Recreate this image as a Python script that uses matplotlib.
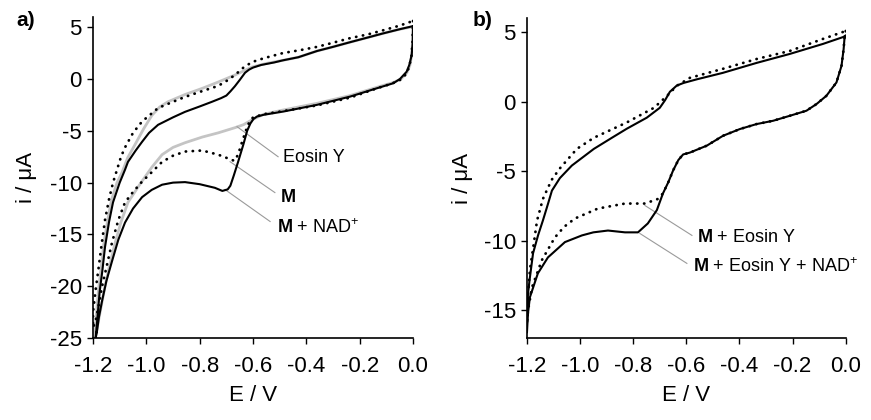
import numpy as np
import matplotlib
matplotlib.use("Agg")
import matplotlib.pyplot as plt

plt.rcParams['font.family'] = ['Liberation Sans', 'DejaVu Sans']
plt.rcParams['axes.unicode_minus'] = False
plt.rcParams['mathtext.fontset'] = 'custom'
plt.rcParams['mathtext.rm'] = 'Liberation Sans'
plt.rcParams['mathtext.bf'] = 'Liberation Sans:bold'

# ---- panel a) : potential (V) / current (uA), lower branch then upper branch
eosin_E = [0.0, -0.002, -0.005, -0.012, -0.023, -0.045, -0.075, -0.135, -0.236, -0.36, -0.488, -0.56,
           -0.604, -0.635, -0.668, -0.731, -0.79, -0.855, -0.9, -0.941, -0.979, -1.02, -1.069, -1.095,
           -1.117, -1.14, -1.155, -1.172, -1.185, -1.192,
           -1.19, -1.18, -1.17, -1.16, -1.145, -1.13, -1.11, -1.091, -1.07, -1.043, -1.01, -0.979,
           -0.95, -0.919, -0.855, -0.79, -0.731, -0.668, -0.604, -0.55, -0.488, -0.43, -0.36, -0.3,
           -0.236, -0.17, -0.112, -0.05, 0.0]
eosin_i = [5.0, 3.5, 2.3, 1.3, 0.6, 0.0, -0.35, -0.8, -1.6, -2.35, -3.0, -3.4,
           -3.94, -4.4, -4.7, -5.2, -5.6, -6.15, -6.6, -7.3, -8.5, -10.0, -11.9, -13.8,
           -15.8, -18.2, -20.0, -22.3, -24.1, -25.0,
           -23.5, -20.5, -18.3, -16.0, -13.6, -11.6, -10.0, -9.0, -7.6, -6.35, -4.8, -3.5,
           -2.7, -2.2, -1.5, -0.9, -0.3, 0.38, 1.15, 1.5, 1.8, 2.1, 2.7, 3.1,
           3.55, 4.0, 4.4, 4.8, 5.05]

m_E = [0.0, -0.002, -0.006, -0.014, -0.025, -0.045, -0.08, -0.135, -0.236, -0.36, -0.488, -0.56,
       -0.6, -0.619, -0.641, -0.656, -0.67, -0.69, -0.731, -0.79, -0.855, -0.9, -0.941, -0.98,
       -1.016, -1.05, -1.08, -1.105, -1.129, -1.15, -1.166, -1.18, -1.19, -1.2,
       -1.2, -1.19, -1.18, -1.168, -1.155, -1.14, -1.125, -1.11, -1.095, -1.08, -1.05, -1.016,
       -0.956, -0.9, -0.855, -0.8, -0.731, -0.7, -0.668, -0.636, -0.604, -0.56, -0.488, -0.42,
       -0.36, -0.3, -0.236, -0.17, -0.112, -0.05, 0.0]
m_i = [5.6, 3.5, 2.2, 1.2, 0.5, -0.05, -0.45, -0.9, -1.8, -2.55, -3.1, -3.4,
       -3.7, -4.4, -6.06, -7.3, -7.9, -7.7, -7.3, -6.9, -7.0, -7.4, -8.0, -9.0,
       -9.9, -10.9, -11.9, -13.6, -15.8, -18.2, -20.0, -22.0, -23.3, -24.0,
       -22.5, -20.3, -18.4, -16.0, -13.6, -11.6, -10.0, -8.75, -7.5, -6.6, -5.2, -4.1,
       -2.8, -2.2, -1.73, -1.25, -0.67, -0.2, 0.38, 1.1, 1.63, 2.0, 2.5, 2.8,
       3.1, 3.5, 3.94, 4.3, 4.7, 5.15, 5.6]

mnad_E = [0.0, -0.001, -0.005, -0.014, -0.024, -0.049, -0.074, -0.136, -0.236, -0.361, -0.486, -0.561,
          -0.585, -0.598, -0.61, -0.622, -0.636, -0.656, -0.672, -0.685, -0.695, -0.715, -0.743, -0.8,
          -0.855, -0.9, -0.941, -0.98, -1.016, -1.05, -1.08, -1.105, -1.129, -1.15, -1.166, -1.178,
          -1.185, -1.19,
          -1.185, -1.175, -1.165, -1.155, -1.14, -1.125, -1.1, -1.08, -1.069, -1.04, -1.016, -0.99,
          -0.956, -0.9, -0.855, -0.8, -0.754, -0.72, -0.7, -0.685, -0.668, -0.65, -0.63, -0.615,
          -0.6, -0.57, -0.52, -0.488, -0.43, -0.36, -0.3, -0.236, -0.17, -0.112, -0.05, 0.0]
mnad_i = [5.1, 3.59, 2.31, 1.35, 0.7, 0.0, -0.41, -0.9, -1.7, -2.5, -3.14, -3.46,
          -3.62, -3.85, -4.3, -5.0, -6.3, -8.0, -9.3, -10.3, -10.65, -10.8, -10.5, -10.15,
          -9.95, -10.0, -10.2, -10.7, -11.4, -12.5, -13.85, -15.5, -17.6, -19.5, -21.4, -23.0,
          -24.3, -25.0,
          -23.5, -20.5, -18.5, -16.2, -13.8, -11.9, -10.0, -8.75, -8.0, -6.9, -6.06, -5.2,
          -4.42, -3.7, -3.17, -2.65, -2.2, -1.85, -1.6, -1.2, -0.7, -0.1, 0.6, 0.9,
          1.1, 1.35, 1.6, 1.8, 2.1, 2.7, 3.1, 3.55, 4.0, 4.4, 4.8, 5.1]

# ---- panel b)
meos_E = [0.0, -0.004, -0.008, -0.016, -0.035, -0.073, -0.11, -0.148, -0.21, -0.273, -0.336, -0.399,
          -0.462, -0.523, -0.587, -0.612, -0.63, -0.65, -0.668, -0.688, -0.707, -0.756, -0.831, -0.933,
          -1.019, -1.06, -1.095, -1.144, -1.181, -1.196, -1.2,
          -1.198, -1.189, -1.175, -1.162, -1.14, -1.121, -1.106, -1.076, -1.012, -0.948, -0.824,
          -0.722, -0.673, -0.636, -0.587, -0.463, -0.335, -0.21, -0.086, 0.0]
meos_i = [5.07, 4.71, 3.76, 2.56, 1.37, 0.41, -0.18, -0.66, -1.02, -1.38, -1.62, -1.98,
          -2.46, -3.17, -3.67, -3.8, -4.2, -4.96, -5.8, -6.6, -7.0, -7.33, -7.33, -7.69,
          -8.4, -9.0, -9.77, -11.4, -13.35, -15.0, -16.0,
          -14.5, -12.1, -10.3, -8.55, -7.0, -6.2, -5.6, -4.8, -3.4, -2.6, -1.5,
          -0.45, 0.4, 1.13, 1.7, 2.35, 3.06, 3.64, 4.5, 5.07]

meosnad_E = [0.0, -0.004, -0.008, -0.016, -0.035, -0.073, -0.11, -0.148, -0.21, -0.273, -0.336, -0.399,
             -0.462, -0.523, -0.587, -0.612, -0.63, -0.65, -0.668, -0.688, -0.711, -0.745, -0.782,
             -0.831, -0.895, -0.95, -0.993, -1.057, -1.121, -1.159, -1.189, -1.196, -1.2,
             -1.2, -1.196, -1.19, -1.177, -1.158, -1.14, -1.12, -1.106, -1.076, -1.031, -0.948,
             -0.88, -0.824, -0.749, -0.7, -0.68, -0.662, -0.636, -0.61, -0.56, -0.463, -0.335,
             -0.211, -0.086, 0.0]
meosnad_i = [4.75, 4.71, 3.76, 2.56, 1.37, 0.41, -0.18, -0.66, -1.02, -1.38, -1.62, -1.98,
             -2.46, -3.17, -3.67, -3.8, -4.2, -4.96, -5.8, -6.6, -7.8, -8.76, -9.4,
             -9.4, -9.27, -9.4, -9.62, -10.1, -11.2, -12.35, -14.07, -15.2, -16.6,
             -15.5, -13.8, -12.8, -10.9, -9.6, -8.55, -7.3, -6.4, -5.5, -4.6, -3.4,
             -2.6, -1.95, -1.16, -0.45, 0.1, 0.7, 1.15, 1.34, 1.6, 2.06, 2.78,
             3.42, 4.14, 4.7]

x_ticks = [-1.2, -1.0, -0.8, -0.6, -0.4, -0.2, 0.0]

fig = plt.figure(figsize=(8.71, 4.2), dpi=100)
ax1 = fig.add_axes([0.1068, 0.195, 0.3674, 0.765])
ax2 = fig.add_axes([0.605, 0.195, 0.366, 0.762])

dot = dict(color='black', lw=2.0, linestyle=(0, (0.1, 2.4)), dash_capstyle='round')
grey_line = '#9a9a9a'

ax1.plot(eosin_E, eosin_i, color='#c4c4c4', lw=2.0, zorder=2)
ax1.plot(m_E, m_i, zorder=3, **dot)
ax1.plot(mnad_E, mnad_i, color='black', lw=1.5, zorder=4)

ax2.plot(meos_E, meos_i, zorder=3, **dot)
ax2.plot(meosnad_E, meosnad_i, color='black', lw=1.5, zorder=4)

# leader lines + labels
fs = 13
ax1.plot([-0.66, -0.506], [-4.6, -7.5], color=grey_line, lw=0.8)
ax1.text(-0.487, -7.6, 'Eosin Y', fontsize=fs, va='center')
ax1.plot([-0.686, -0.518], [-7.98, -10.96], color=grey_line, lw=0.8)
ax1.text(-0.499, -11.4, r'$\mathbf{M}$', fontsize=fs, va='center')
ax1.plot([-0.705, -0.536], [-10.67, -13.75], color=grey_line, lw=0.8)
ax1.text(-0.51, -14.3, r'$\mathbf{M}$ + NAD$^{+}$', fontsize=fs, va='center')

ax2.plot([-0.756, -0.579], [-7.47, -9.62], color=grey_line, lw=0.8)
ax2.text(-0.56, -9.77, r'$\mathbf{M}$ + Eosin Y', fontsize=fs, va='center')
ax2.plot([-0.775, -0.598], [-9.48, -11.63], color=grey_line, lw=0.8)
ax2.text(-0.575, -11.9, r'$\mathbf{M}$ + Eosin Y + NAD$^{+}$', fontsize=fs, va='center')

for ax, ylo, yticks, ylab_x in [(ax1, -25, [5, 0, -5, -10, -15, -20, -25], -0.175),
                                (ax2, -17, [5, 0, -5, -10, -15], -0.17)]:
    ax.set_xlim(-1.2, 0.0)
    ax.set_ylim(ylo, 6)
    ax.set_xticks(x_ticks)
    ax.set_xticklabels(['%.1f' % t for t in x_ticks])
    ax.set_yticks(yticks)
    ax.spines['top'].set_visible(False)
    ax.spines['right'].set_visible(False)
    ax.spines['left'].set_linewidth(1.2)
    ax.spines['bottom'].set_linewidth(1.2)
    ax.tick_params(axis='x', direction='out', length=4, width=1, pad=9, labelsize=16)
    ax.tick_params(axis='y', direction='out', length=4, width=1, pad=4, labelsize=16)
    ax.set_xlabel('E / V', fontsize=16)
    ax.set_ylabel('i / μA', fontsize=16)
    ax.xaxis.set_label_coords(0.5, -0.145)
    ax.yaxis.set_label_coords(ylab_x, 0.5)

fig.text(0.019, 0.952, 'a)', fontsize=15, fontweight='bold', va='center')
fig.text(0.543, 0.952, 'b)', fontsize=15, fontweight='bold', va='center')

fig.savefig('out.png', dpi=100)
